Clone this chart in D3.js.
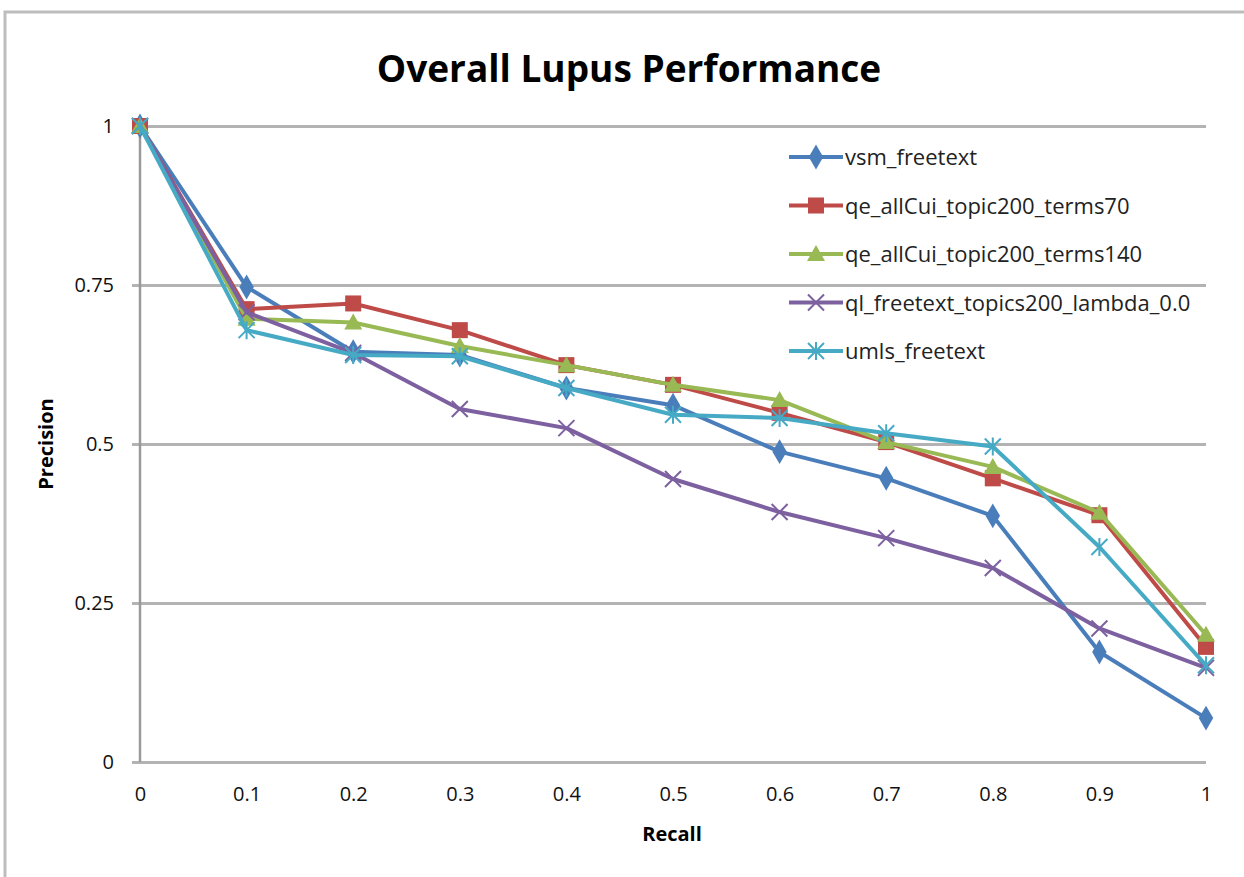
<!DOCTYPE html>
<html>
<head>
<meta charset="utf-8">
<script src="https://cdn.jsdelivr.net/npm/d3@7"></script>
<style>
  body { margin: 0; background: #fff; }
  svg text { font-family: "Open Sans", sans-serif; }
</style>
</head>
<body>
<svg id="chart"></svg>
<script>
// recall points and tick labels
const recall = [0, 0.1, 0.2, 0.3, 0.4, 0.5, 0.6, 0.7, 0.8, 0.9, 1];
const yTicks = [0, 0.25, 0.5, 0.75, 1];

// precision per series
const vsmFreetext = [1, 0.747, 0.645, 0.640, 0.588, 0.561, 0.488, 0.446, 0.387, 0.173, 0.069];
const qeTerms70   = [1, 0.712, 0.721, 0.679, 0.624, 0.593, 0.549, 0.503, 0.446, 0.388, 0.181];
const qeTerms140  = [1, 0.697, 0.691, 0.654, 0.624, 0.593, 0.569, 0.503, 0.464, 0.392, 0.200];
const qlLambda    = [1, 0.707, 0.643, 0.555, 0.525, 0.445, 0.393, 0.352, 0.305, 0.210, 0.148];
const umlsFreetext= [1, 0.679, 0.640, 0.638, 0.588, 0.546, 0.541, 0.517, 0.496, 0.338, 0.152];

const seriesNames = ["vsm_freetext", "qe_allCui_topic200_terms70", "qe_allCui_topic200_terms140",
                     "ql_freetext_topics200_lambda_0.0", "umls_freetext"];
const seriesValues = [vsmFreetext, qeTerms70, qeTerms140, qlLambda, umlsFreetext];
const colors = ["#4a7ebb", "#be4b48", "#98b954", "#7d60a0", "#46aac5"];
const markers = ["diamond", "square", "triangle", "cross", "star"];

const W = 1244, H = 877;
const margin = {top: 126, right: 38, bottom: 115, left: 140};
const width = W - margin.left - margin.right;
const height = H - margin.top - margin.bottom;

const root = d3.select("#chart").attr("width", W).attr("height", H);

// outer frame
root.append("path")
    .attr("d", "M5," + H + "V12H" + W)
    .attr("fill", "none")
    .attr("stroke", "#bdbdbd")
    .attr("stroke-width", 3);

root.append("text")
    .attr("x", 629).attr("y", 82)
    .attr("text-anchor", "middle")
    .style("font-size", "37px")
    .style("font-weight", "bold")
    .text("Overall Lupus Performance");

const svg = root.append("g")
    .attr("transform", "translate(" + margin.left + "," + margin.top + ")");

const x = d3.scaleLinear().domain([0, 1]).range([0, width]);
const y = d3.scaleLinear().domain([0, 1]).range([height, 0]);

// gridlines + y axis
const yAxis = svg.append("g")
    .call(d3.axisLeft(y).tickValues(yTicks).tickSize(-width).tickPadding(26)
      .tickFormat(d => String(d)));
yAxis.select(".domain").remove();
yAxis.selectAll(".tick line")
    .attr("x1", -8)
    .attr("stroke", "#b3b3b3")
    .attr("stroke-width", 3);
yAxis.selectAll(".tick text")
    .style("font-size", "20px")
    .attr("fill", "#111");

svg.append("line")
    .attr("x1", 0).attr("x2", 0).attr("y1", 0).attr("y2", height)
    .attr("stroke", "#9a9a9a").attr("stroke-width", 2.5);

const xAxis = svg.append("g")
    .attr("transform", "translate(0," + height + ")")
    .call(d3.axisBottom(x).tickValues(recall).tickSize(0).tickPadding(25)
      .tickFormat(d => String(d)));
xAxis.select(".domain").remove();
xAxis.selectAll(".tick text")
    .style("font-size", "20px")
    .attr("fill", "#111");

svg.append("text")
    .attr("x", width / 2 - 1).attr("y", height + 79)
    .attr("text-anchor", "middle")
    .style("font-size", "20px").style("font-weight", "bold")
    .text("Recall");

svg.append("text")
    .attr("transform", "translate(-87," + (height / 2) + ") rotate(-90)")
    .attr("text-anchor", "middle")
    .style("font-size", "20px").style("font-weight", "bold")
    .text("Precision");

function drawMarker(g, type, color, cx, cy) {
  if (type === "diamond") {
    g.append("path").attr("d", d3.symbol(d3.symbolDiamond, 180)())
      .attr("transform", "translate(" + cx + "," + cy + ")").attr("fill", color);
  } else if (type === "square") {
    g.append("rect").attr("x", cx - 8).attr("y", cy - 8).attr("width", 16).attr("height", 16)
      .attr("fill", color);
  } else if (type === "triangle") {
    g.append("path").attr("d", "M0,-9L9,7H-9Z")
      .attr("transform", "translate(" + cx + "," + cy + ")").attr("fill", color);
  } else if (type === "cross") {
    g.append("path").attr("d", "M-8,-8L8,8M-8,8L8,-8")
      .attr("transform", "translate(" + cx + "," + cy + ")")
      .attr("stroke", color).attr("stroke-width", 2).attr("fill", "none");
  } else {
    g.append("path").attr("d", "M-8,-8L8,8M-8,8L8,-8M0,-9V9")
      .attr("transform", "translate(" + cx + "," + cy + ")")
      .attr("stroke", color).attr("stroke-width", 2).attr("fill", "none");
  }
}

const line = d3.line().x((d, i) => x(recall[i])).y(d => y(d));

seriesValues.forEach((vals, s) => {
  const g = svg.append("g");
  g.append("path")
      .datum(vals)
      .attr("d", line)
      .attr("fill", "none")
      .attr("stroke", colors[s])
      .attr("stroke-width", 4)
      .attr("stroke-linejoin", "round");
  vals.forEach((v, i) => drawMarker(g, markers[s], colors[s], x(recall[i]), y(v)));
});

// legend
const legend = root.append("g").attr("transform", "translate(789,157)");
seriesNames.forEach((name, s) => {
  const row = legend.append("g").attr("transform", "translate(0," + (s * 48.5) + ")");
  row.append("line").attr("x1", 0).attr("x2", 54).attr("y1", 0).attr("y2", 0)
    .attr("stroke", colors[s]).attr("stroke-width", 4);
  drawMarker(row, markers[s], colors[s], 27, 0);
  row.append("text").attr("x", 56).attr("y", 8)
    .style("font-size", "22px").attr("fill", "#222")
    .text(name);
});
</script>
</body>
</html>
